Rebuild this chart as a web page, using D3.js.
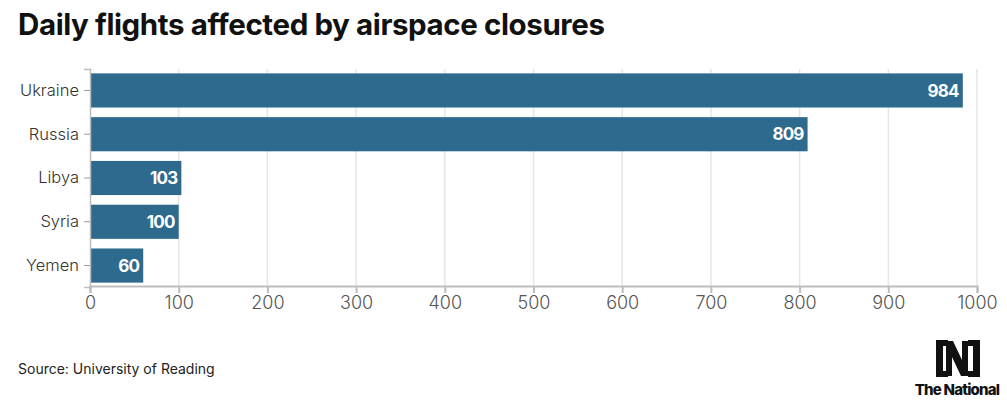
<!DOCTYPE html>
<html><head><meta charset="utf-8">
<script src="https://cdn.jsdelivr.net/npm/d3@7"></script>
<style>
body{margin:0;background:#fff;}
svg{display:block;}
</style></head>
<body>
<svg id="chart" width="1007" height="402"></svg>
<script>
const categories = ["Ukraine","Russia","Libya","Syria","Yemen"];
const values = [984, 809, 103, 100, 60];
const tickValues = [0,100,200,300,400,500,600,700,800,900,1000];
const title = "Daily flights affected by airspace closures";
const source = "Source: University of Reading";

const svg = d3.select("#chart");
const font = "Inter, 'Noto Sans', Roboto, sans-serif";

svg.append("text").attr("x",18).attr("y",35)
  .attr("font-family",font).attr("font-weight",700).attr("font-size",29.5)
  .attr("letter-spacing","-0.4").attr("fill","#111").text(title);

const x = d3.scaleLinear().domain([0,1000]).range([90,977]);
const y = d3.scaleBand().domain(categories).range([69,287]).paddingInner(0.22).paddingOuter(0.1);

// grid
svg.append("g").selectAll("line").data(tickValues.slice(1)).join("line")
  .attr("x1",d=>x(d)).attr("x2",d=>x(d)).attr("y1",69).attr("y2",286)
  .attr("stroke","#e6e6e6").attr("stroke-width",1.5);

// bars
svg.append("g").selectAll("rect").data(values).join("rect")
  .attr("x",x(0)).attr("y",(d,i)=>y(categories[i]))
  .attr("width",d=>x(d)-x(0)).attr("height",y.bandwidth())
  .attr("fill","#2d6a8e");

// value labels
svg.append("g").selectAll("text").data(values).join("text")
  .attr("x",d=>x(d)-4).attr("y",(d,i)=>y(categories[i])+y.bandwidth()/2)
  .attr("dy","0.36em").attr("text-anchor","end")
  .attr("font-family",font).attr("font-weight",700).attr("font-size",17)
  .attr("letter-spacing","-0.8").attr("fill","#fff").text(d=>d);

// y axis
const ya = svg.append("g").attr("transform",`translate(${x(0)},0)`)
  .call(d3.axisLeft(y).tickSize(6).tickPadding(5));
ya.select(".domain").attr("stroke","#bdbdbd").attr("stroke-width",1.5);
ya.selectAll(".tick line").attr("stroke","#999");
ya.selectAll(".tick text").attr("font-family",font).attr("font-size",16.5).attr("fill","#333").attr("font-weight",300);

// x axis
const xa = svg.append("g").attr("transform","translate(0,286)")
  .call(d3.axisBottom(x).tickValues(tickValues).tickFormat(d3.format("d")).tickSize(7).tickPadding(3).tickSizeOuter(7));
xa.select(".domain").attr("stroke","#bdbdbd").attr("stroke-width",2);
xa.selectAll(".tick line").attr("stroke","#bdbdbd").attr("stroke-width",2);
xa.selectAll(".tick text").attr("font-family",font).attr("font-size",18).attr("fill","#555").attr("font-weight",300);

svg.append("text").attr("x",18).attr("y",374)
  .attr("font-family",font).attr("font-size",14).attr("fill","#222").text(source);

// logo
const logo = svg.append("g").attr("fill","#111");
logo.append("path").attr("d","M936,340 H948 V346 H943 V371 H948 V377 H936 Z");
logo.append("path").attr("d","M980,340 H968 V346 H973 V371 H968 V377 H980 Z");
logo.append("path").attr("d","M946,341 H953 L962,360 V341 H968 V376 H961 L952,357 V376 H946 Z");
logo.append("text").attr("x",957).attr("y",395).attr("text-anchor","middle")
  .attr("font-family",font).attr("font-weight",800).attr("font-size",15)
  .attr("letter-spacing","-0.8").text("The National");
</script>
</body></html>
